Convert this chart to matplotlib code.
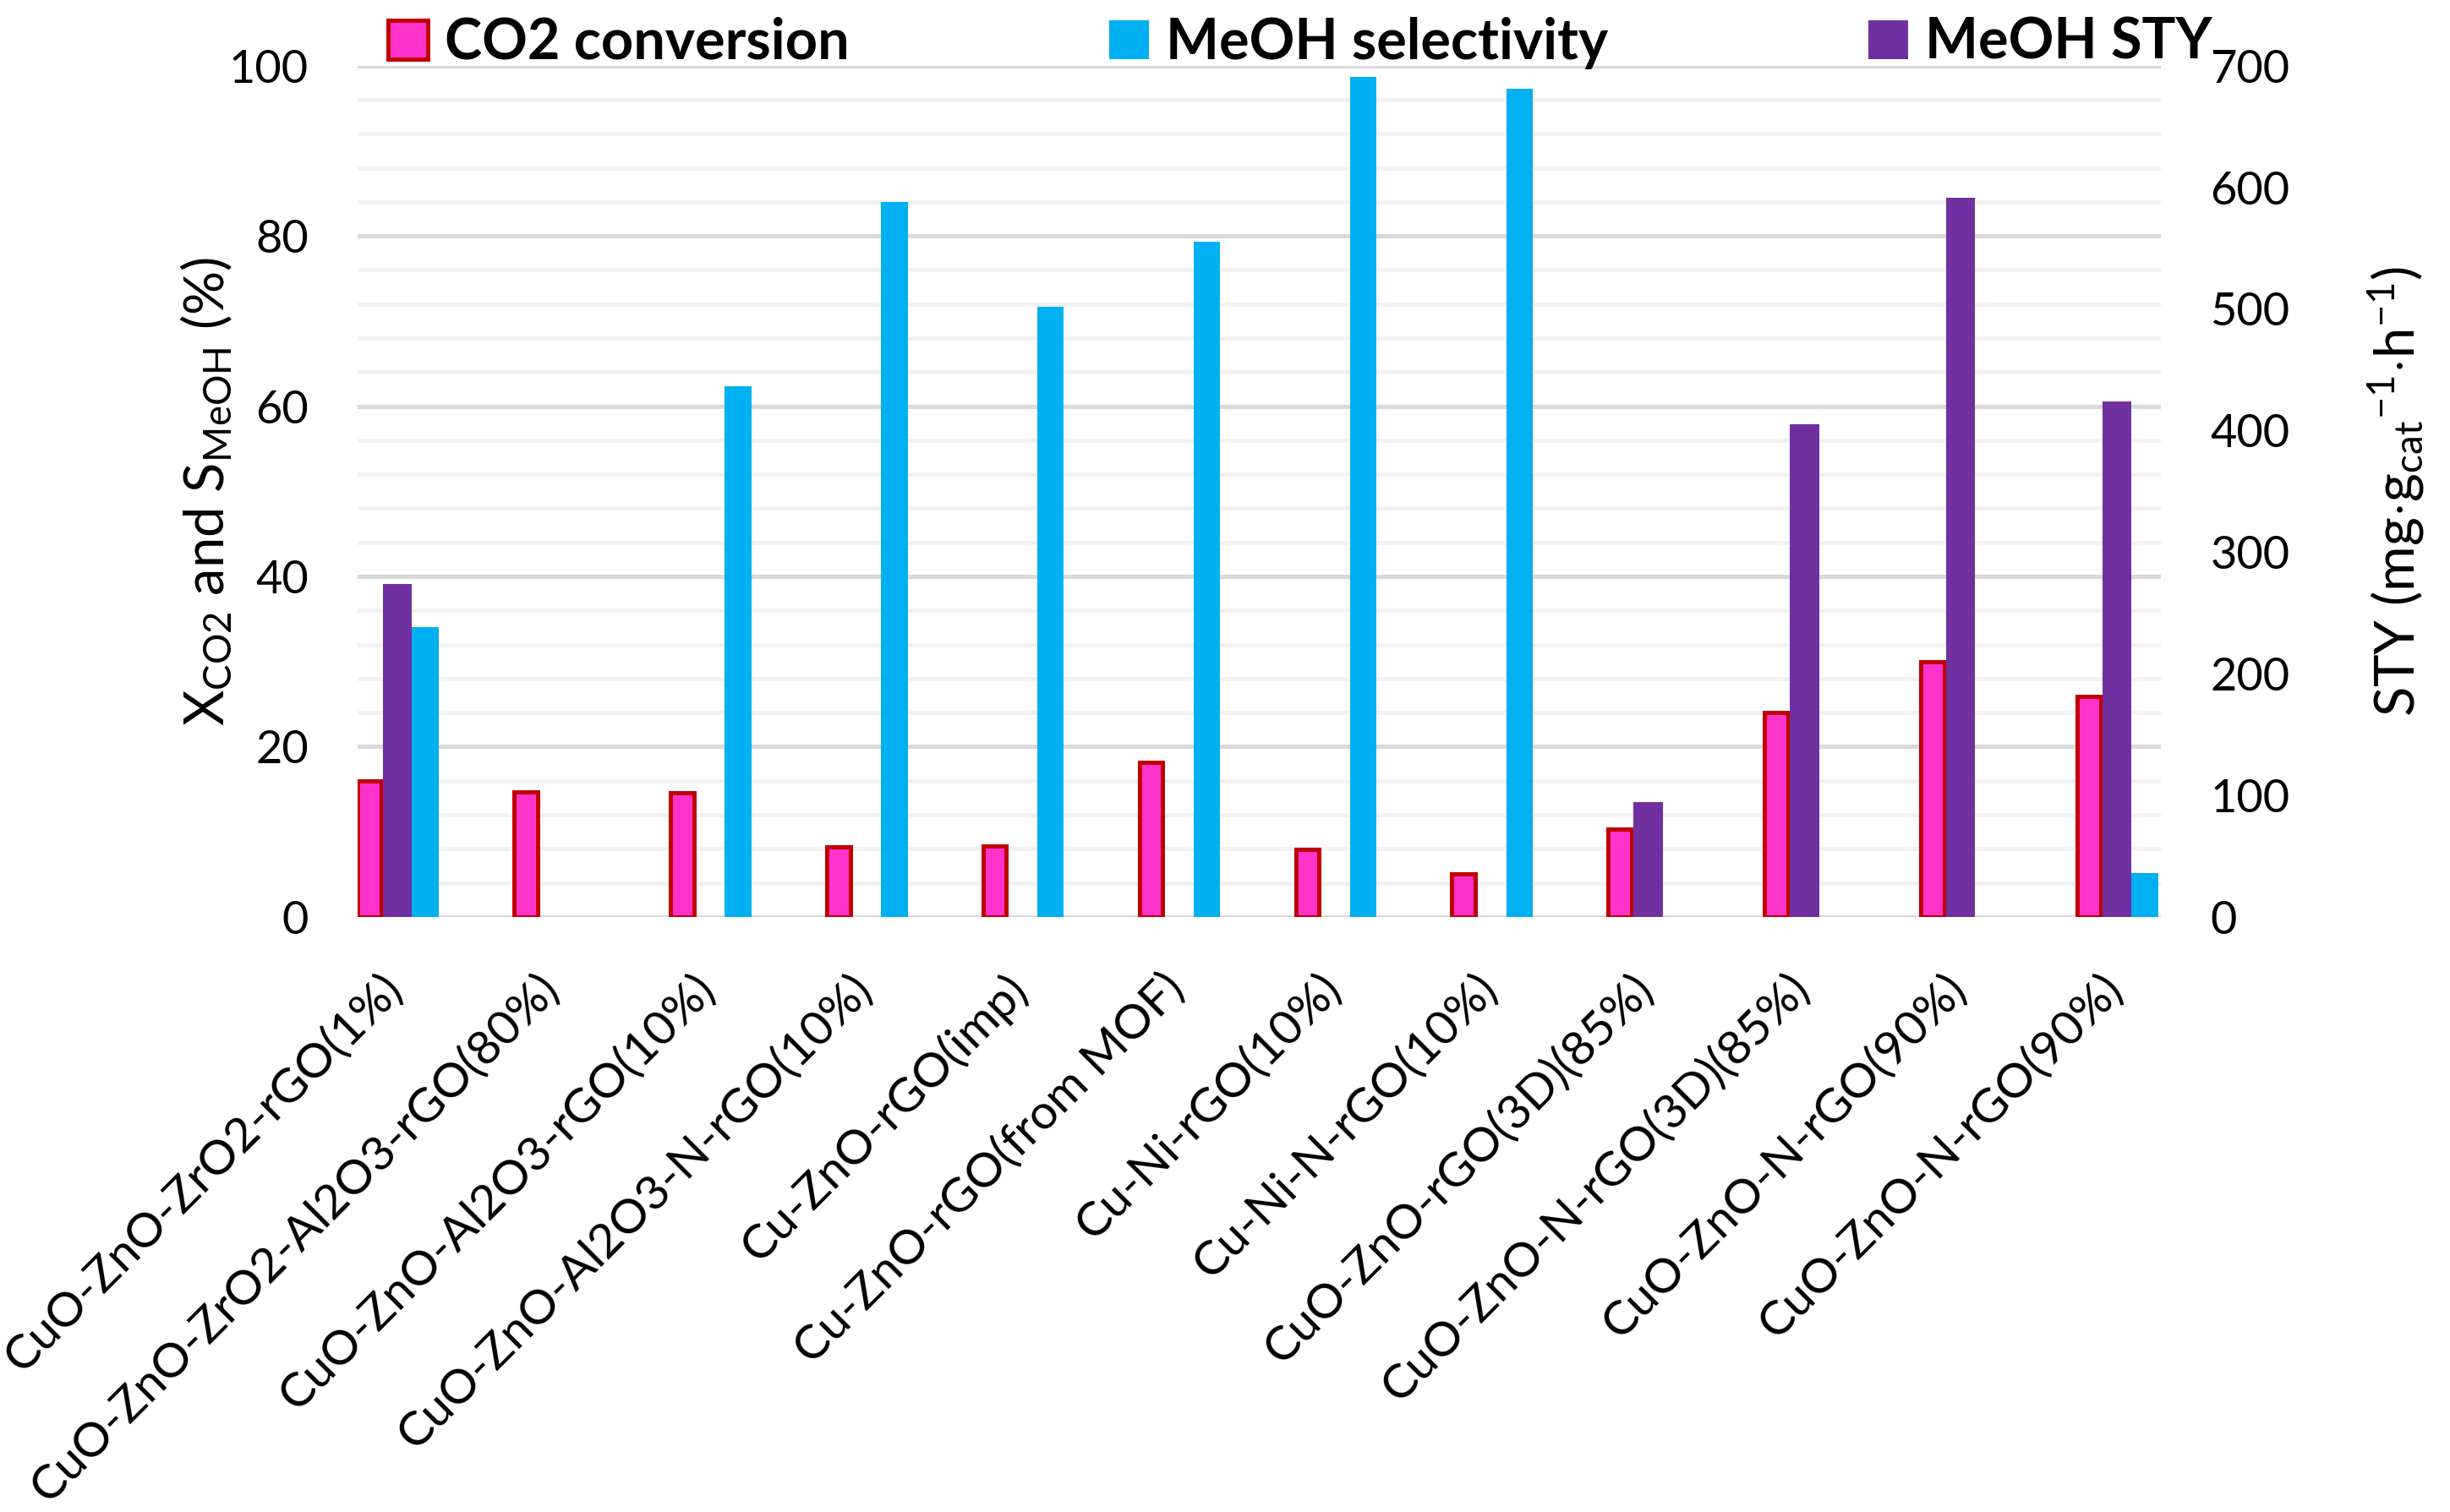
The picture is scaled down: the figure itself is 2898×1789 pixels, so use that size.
import numpy as np
import matplotlib
matplotlib.use("Agg")
import matplotlib.pyplot as plt
from matplotlib.patches import Patch
from matplotlib.transforms import ScaledTranslation

plt.rcParams['font.family'] = ['Lato', 'DejaVu Sans']
plt.rcParams['mathtext.fontset'] = 'custom'
plt.rcParams['mathtext.rm'] = 'Lato'
plt.rcParams['mathtext.it'] = 'Lato'

categories = [
    "CuO-ZnO-ZrO2-rGO(1%)",
    "CuO-ZnO-ZrO2-Al2O3-rGO(80%)",
    "CuO-ZnO-Al2O3-rGO(10%)",
    "CuO-ZnO-Al2O3-N-rGO(10%)",
    "Cu-ZnO-rGO(imp)",
    "Cu-ZnO-rGO(from MOF)",
    "Cu-Ni-rGO(10%)",
    "Cu-Ni-N-rGO(10%)",
    "CuO-ZnO-rGO(3D)(85%)",
    "CuO-ZnO-N-rGO(3D)(85%)",
    "CuO-ZnO-N-rGO(90%)",
    "CuO-ZnO-N-rGO(90%)",
]
co2_conversion = [16.0, 14.7, 14.6, 8.2, 8.3, 18.2, 7.9, 5.0, 10.3, 24.0, 30.0, 25.9]
meoh_selectivity = [34.0, np.nan, 62.3, 84.0, 71.7, 79.3, 98.7, 97.3, np.nan, np.nan, np.nan, 5.1]
meoh_sty = [274, np.nan, np.nan, np.nan, np.nan, np.nan, np.nan, np.nan, 94.6, 405, 591, 424]

left_ticks = [0, 20, 40, 60, 80, 100]
right_ticks = [0, 100, 200, 300, 400, 500, 600, 700]

PINK = '#FF33CC'
RED = '#C00000'
BLUE = '#00B0F0'
PURPLE = '#7030A0'

W, H, DPI = 2898, 1789, 200
fig = plt.figure(figsize=(W / DPI, H / DPI), dpi=DPI)
ax = fig.add_axes([0.146, 0.3936, 0.882 - 0.146, 0.9566 - 0.3936])
ax2 = ax.twinx()

x = np.arange(len(categories))
w_pur = 0.185
w_pink = 0.15
w_blue = 0.17

ax.bar(x - w_pur / 2 - 0.0125 - w_pink / 2, co2_conversion, width=w_pink,
       color=PINK, edgecolor=RED, linewidth=1.8, zorder=3)
ax.bar(x + w_pur / 2 + w_blue / 2, meoh_selectivity, width=w_blue,
       color=BLUE, linewidth=0, zorder=3)
ax2.bar(x, meoh_sty, width=w_pur, color=PURPLE, linewidth=0, zorder=3)

ax.set_xlim(-0.255, 11.28)
ax2.set_xlim(-0.255, 11.28)
ax.set_ylim(0, 100)
ax2.set_ylim(0, 700)

ax.set_yticks(left_ticks)
ax.set_yticks(np.arange(0, 101, 4), minor=True)
ax2.set_yticks(right_ticks)
ax.grid(True, which='major', axis='y', color='#D9D9D9', linewidth=1.8, zorder=0)
ax.grid(True, which='minor', axis='y', color='#F2F2F2', linewidth=1.8, zorder=0)
ax.set_axisbelow(True)

for a in (ax, ax2):
    for s in a.spines.values():
        s.set_visible(False)

ax.tick_params(axis='y', which='both', length=0, pad=21, labelsize=19.5)
ax2.tick_params(axis='y', which='both', length=0, pad=21, labelsize=19.5)

ax.set_xticks(x)
ax.set_xticklabels(categories, rotation=45, ha='right', va='top', fontsize=20.5)
ax.tick_params(axis='x', length=0, pad=21)
offset = ScaledTranslation(16 / DPI, 0, fig.dpi_scale_trans)
for lbl in ax.get_xticklabels():
    lbl.set_transform(lbl.get_transform() + offset)

fig.text(0.0845, 0.675, r"X$_{\mathregular{CO2}}$ and S$_{\mathregular{MeOH}}$ (%)",
         rotation=90, ha='center', va='center', fontsize=23.5)
fig.text(0.978, 0.675, r"STY (mg$\cdot$g$_{\mathregular{cat}}$$^{\mathregular{-1}}$$\cdot$h$^{\mathregular{-1}}$)",
         rotation=90, ha='center', va='center', fontsize=23.5)

leg_kw = dict(frameon=False, borderpad=0, borderaxespad=0, handlelength=0.7,
              handleheight=0.69, handletextpad=0.3,
              prop={'weight': 'bold', 'size': 24}, loc='center left')
fig.legend(handles=[Patch(facecolor=PINK, edgecolor=RED, linewidth=1.8)],
           labels=['CO2 conversion'], bbox_to_anchor=(459 / W, 1 - 51 / H), **leg_kw)
fig.legend(handles=[Patch(facecolor=BLUE, edgecolor='none')],
           labels=['MeOH selectivity'], bbox_to_anchor=(1312 / W, 1 - 51 / H), **leg_kw)
fig.legend(handles=[Patch(facecolor=PURPLE, edgecolor='none')],
           labels=['MeOH STY'], bbox_to_anchor=(2210 / W, 1 - 51 / H), **leg_kw)

fig.savefig('out.png', dpi=DPI, facecolor='white')
